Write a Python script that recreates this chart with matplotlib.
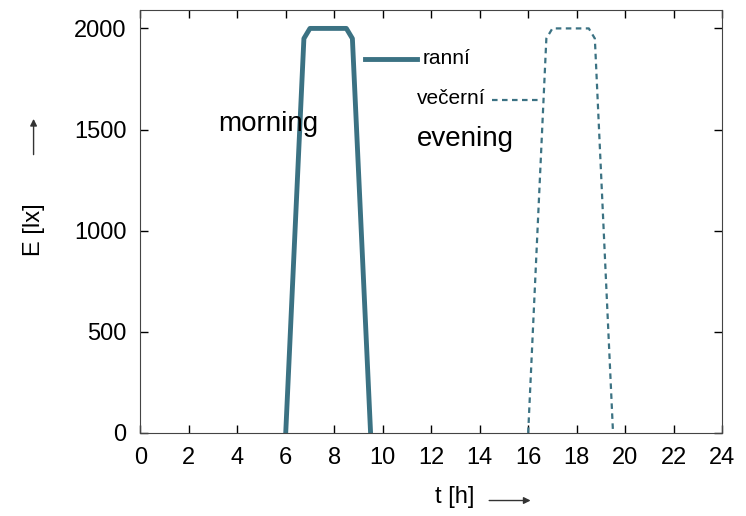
import matplotlib.pyplot as plt
import numpy as np

# illuminance profiles (hours, lux)
t_morning = [6, 6.75, 7, 8.5, 8.75, 9.5]
e_morning = [0, 1950, 2000, 2000, 1950, 0]
t_evening = [16, 16.75, 17, 18.5, 18.75, 19.5]
e_evening = [0, 1950, 2000, 2000, 1950, 0]
x_ticks = list(range(0, 25, 2))
y_ticks = [0, 500, 1000, 1500, 2000]

color = '#3b7283'
fam = ['Liberation Sans', 'DejaVu Sans']

fig = plt.figure(figsize=(7.46, 5.16), dpi=100)
ax = fig.add_axes([0.188, 0.161, 0.78, 0.82])

ax.plot(t_morning, e_morning, color=color, lw=3.5, solid_joinstyle='round')
ax.plot(t_evening, e_evening, color=color, lw=1.6, linestyle=(0, (2.5, 2)))

ax.set_xlim(0, 24)
ax.set_ylim(0, 2092)
ax.set_xticks(x_ticks)
ax.set_yticks(y_ticks)
ax.tick_params(direction='in', top=True, right=True, length=6, width=1, labelsize=17, pad=10)
for lab in ax.get_xticklabels() + ax.get_yticklabels():
    lab.set_family(fam)
for sp in ax.spines.values():
    sp.set_color('#444444')

# gnuplot-like key
ax.plot([0.386, 0.476], [0.884, 0.884], transform=ax.transAxes, color=color, lw=3.5)
ax.text(0.485, 0.884, 'ranní', transform=ax.transAxes, fontsize=15, family=fam, va='center')
ax.plot([0.605, 0.685], [0.788, 0.788], transform=ax.transAxes, color=color, lw=1.6,
        linestyle=(0, (2.5, 2)))
ax.text(0.594, 0.79, 'večerní', transform=ax.transAxes, fontsize=15, family=fam,
        va='center', ha='right')

ax.text(5.3, 1525, 'morning', fontsize=20, family=fam, ha='center', va='center')
ax.text(13.4, 1455, 'evening', fontsize=20, family=fam, ha='center', va='center')

# axis labels with arrows
fig.text(0.61, 0.037, 't [h]', fontsize=17, family=fam, ha='center', va='center')
ax.annotate('', xy=(0.715, 0.03), xytext=(0.652, 0.03), xycoords='figure fraction',
            arrowprops=dict(arrowstyle='-|>', color='#333333', lw=1, mutation_scale=10))
fig.text(0.046, 0.555, 'E [lx]', fontsize=17, family=fam, rotation=90, ha='center', va='center')
ax.annotate('', xy=(0.045, 0.775), xytext=(0.045, 0.695), xycoords='figure fraction',
            arrowprops=dict(arrowstyle='-|>', color='#333333', lw=1, mutation_scale=10))

fig.savefig('out.png', dpi=100)
